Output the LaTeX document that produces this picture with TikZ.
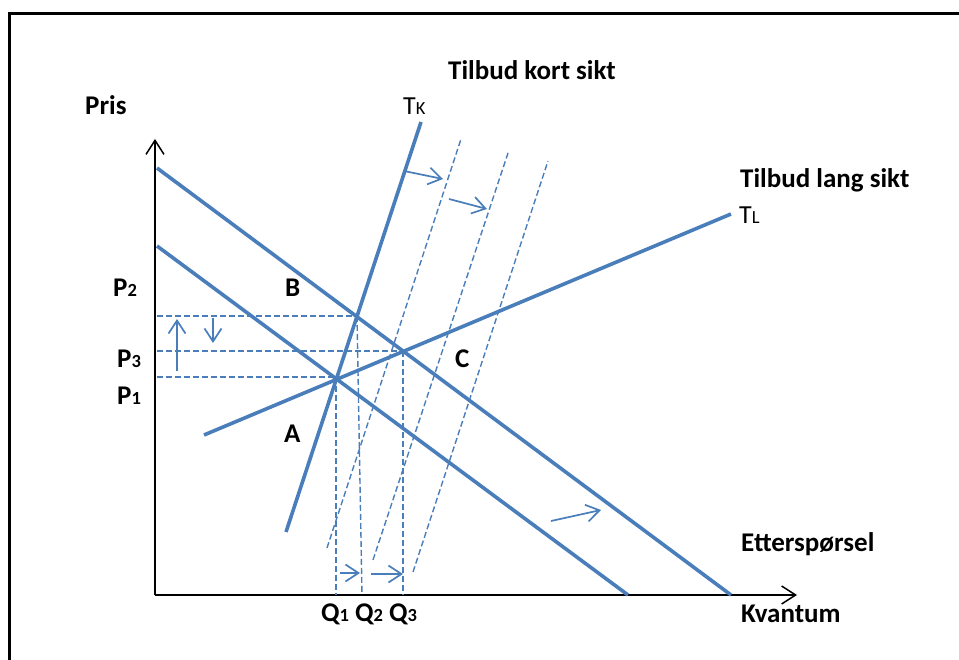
\documentclass[tikz,border=0pt]{standalone}
\usepackage{fontspec}
\setmainfont{Carlito}
\usetikzlibrary{arrows.meta}
\definecolor{lineblue}{RGB}{74,126,187}
\newcommand{\sm}[1]{{\fontsize{18.5}{20}\selectfont #1}}
\begin{document}
\begin{tikzpicture}[x=1pt,y=-1pt,
  curve/.style={lineblue,line width=3.6pt},
  guide/.style={lineblue,line width=1.4pt,dash pattern=on 6pt off 3pt},
  shiftarrow/.style={lineblue,line width=1.7pt,-{Straight Barb[length=13pt,width=17pt]}},
  axisline/.style={black,line width=1.5pt,-{Straight Barb[length=14pt,width=18pt]}},
  lbl/.style={inner sep=0pt,anchor=base west,font=\bfseries\fontsize{27}{30}\selectfont},
  tlbl/.style={inner sep=0pt,anchor=base west,font=\fontsize{26}{30}\selectfont}]
\useasboundingbox (0,0) rectangle (959,660);
% frame
\coordinate (f1) at (9,660);
\coordinate (f2) at (9,14);
\coordinate (f3) at (959,14);
\draw[line width=3pt] (f1) -- (f2) -- (f3);
% axes
\coordinate (O) at (155,595);
\coordinate (ytop) at (155,139);
\coordinate (xend) at (797,595);
\draw[axisline] (O) -- (ytop);
\draw[axisline] (O) -- (xend);
% points
\coordinate (d2a) at (157,168);  \coordinate (d2b) at (731,595);
\coordinate (d1a) at (157,246);  \coordinate (d1b) at (628,595);
\coordinate (tka) at (286,532);  \coordinate (tkb) at (421,122);
\coordinate (tla) at (204,435);  \coordinate (tlb) at (731,214);
\coordinate (s1a) at (327,548);  \coordinate (s1b) at (461,139);
\coordinate (s2a) at (373,560);  \coordinate (s2b) at (509,150);
\coordinate (s3a) at (413,572);  \coordinate (s3b) at (548,161);
\coordinate (E1) at (336,377);
\coordinate (E2) at (357,316);
\coordinate (E3) at (403,351);
\coordinate (p1) at (157,377);
\coordinate (p2) at (157,316);
\coordinate (p3) at (157,351);
\coordinate (q1) at (336,595);
\coordinate (q2) at (362,595);
\coordinate (q3) at (403,595);
% dashed guides
\draw[guide] (s1a) -- (s1b);
\draw[guide] (s2a) -- (s2b);
\draw[guide] (s3a) -- (s3b);
\draw[guide] (p2) -- (E2);
\draw[guide] (p3) -- (E3);
\draw[guide] (p1) -- (E1);
\draw[guide] (E1) -- (q1);
\draw[guide] (E2) -- (q2);
\draw[guide] (E3) -- (q3);
% curves
\draw[curve] (d2a) -- (d2b);
\draw[curve] (d1a) -- (d1b);
\draw[curve] (tka) -- (tkb);
\draw[curve] (tla) -- (tlb);
% shift arrows
\coordinate (au1) at (177,371); \coordinate (au2) at (177,319);
\coordinate (ad1) at (213,318); \coordinate (ad2) at (213,343);
\coordinate (ar1) at (404,171); \coordinate (ar2) at (443,179);
\coordinate (ar3) at (449,199); \coordinate (ar4) at (487,209);
\coordinate (aq1) at (340,573); \coordinate (aq2) at (360,573);
\coordinate (aq3) at (371,574); \coordinate (aq4) at (403,574);
\coordinate (ae1) at (551,521); \coordinate (ae2) at (601,510);
\draw[shiftarrow] (au1) -- (au2);
\draw[shiftarrow] (ad1) -- (ad2);
\draw[shiftarrow] (ar1) -- (ar2);
\draw[shiftarrow] (ar3) -- (ar4);
\draw[shiftarrow] (aq1) -- (aq2);
\draw[shiftarrow] (aq3) -- (aq4);
\draw[shiftarrow] (ae1) -- (ae2);
% labels
\node[lbl] (pris) at (85,115) {Pris};
\node[lbl] (tks) at (448,80) {Tilbud kort sikt};
\node[tlbl] (tk) at (403,115) {T\sm{K}};
\node[lbl] (tls) at (740,188) {Tilbud lang sikt};
\node[tlbl] (tl) at (739,224) {T\sm{L}};
\node[lbl] (P2) at (113,297) {P\sm{2}};
\node[lbl] (P3) at (117,368) {P\sm{3}};
\node[lbl] (P1) at (117,405) {P\sm{1}};
\node[lbl] (B) at (285,297) {B};
\node[lbl] (A) at (284,442) {A};
\node[lbl] (C) at (455,368) {C};
\node[lbl] (Q) at (321,621) {Q\sm{1} Q\sm{2} Q\sm{3}};
\node[lbl] (ett) at (741,551) {Etterspørsel};
\node[lbl] (kv) at (741,622) {Kvantum};
\end{tikzpicture}
\end{document}
